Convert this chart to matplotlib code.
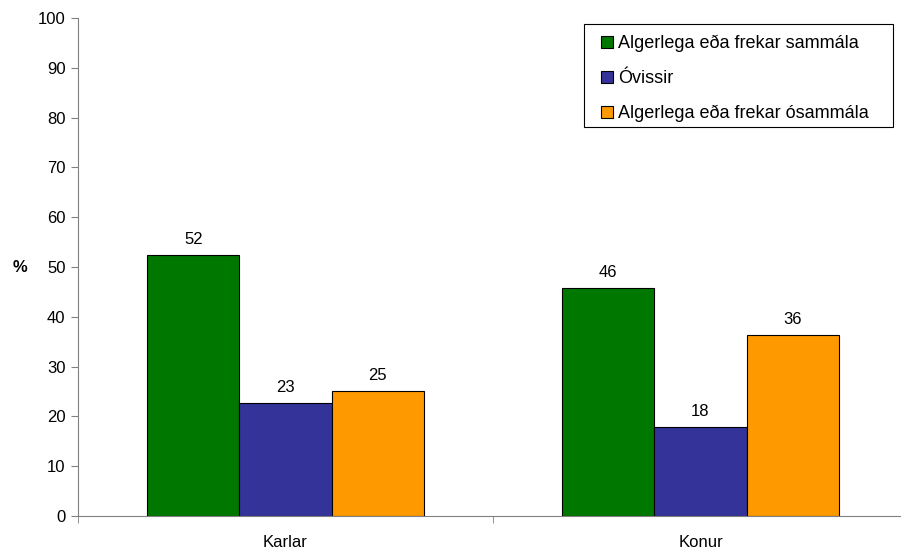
import matplotlib
import matplotlib.pyplot as plt
import numpy as np
from matplotlib.patches import Rectangle

matplotlib.use("Agg")

plt.rcParams["font.family"] = ["Liberation Sans", "DejaVu Sans"]

categories = ["Karlar", "Konur"]
series = [
    "Algerlega eða frekar sammála",
    "Óvissir",
    "Algerlega eða frekar ósammála",
]
values = [
    [52.4, 45.8],
    [22.7, 17.9],
    [25.1, 36.3],
]
colors = ["#007800", "#333399", "#FF9900"]

W, H = 901, 552
L, R, T, B = 78, 908, 18, 516  # axes box in pixels

fig = plt.figure(figsize=(W / 100, H / 100), dpi=100)
ax = fig.add_axes([L / W, 1 - B / H, (R - L) / W, (B - T) / H])


def ax_xy(px, py):
    # pixel position -> axes fraction
    return (px - L) / (R - L), (B - py) / (B - T)


x = np.arange(len(categories))
width = 0.222
for i, (name, vals, col) in enumerate(zip(series, values, colors)):
    pos = x + (i - 1) * width
    bars = ax.bar(pos, vals, width, color=col, edgecolor="black", linewidth=0.8, label=name)
    for b, v in zip(bars, vals):
        ax.text(b.get_x() + b.get_width() / 2, v + 1.6, f"{v:.0f}",
                ha="center", va="bottom", fontsize=12)

ax.set_xlim(-0.5, len(categories) - 0.5)
ax.set_ylim(0, 100)
ax.set_yticks(range(0, 101, 10))
ax.set_xticks(x)
ax.set_xticklabels(categories)
ax.set_xticks(np.arange(-0.5, len(categories)), minor=True)
ax.tick_params(axis="x", which="major", length=0, pad=14, labelsize=12)
ax.tick_params(axis="x", which="minor", length=5, color="#808080")
ax.tick_params(axis="y", length=5, color="#808080", labelsize=12, pad=4)

for s in ["top", "right"]:
    ax.spines[s].set_visible(False)
for s in ["left", "bottom"]:
    ax.spines[s].set_color("#808080")

ax.text(ax_xy(20, 0)[0], 50, "%", transform=ax.get_yaxis_transform(), fontsize=12,
        fontweight="bold", ha="center", va="center")

# legend box drawn separately so the padding matches
x0, y0 = ax_xy(584, 127)
x1, y1 = ax_xy(893, 24)
ax.add_patch(Rectangle((x0, y0), x1 - x0, y1 - y0, transform=ax.transAxes,
                       facecolor="white", edgecolor="black", linewidth=0.8,
                       clip_on=False, zorder=4))
leg = ax.legend(loc="upper left", bbox_to_anchor=ax_xy(601, 35),
                frameon=False, fontsize=13,
                handlelength=0.65, handleheight=0.65, handletextpad=0.3,
                labelspacing=0.99, borderpad=0, borderaxespad=0)
leg.set_zorder(5)

fig.savefig("out.png", dpi=100)
